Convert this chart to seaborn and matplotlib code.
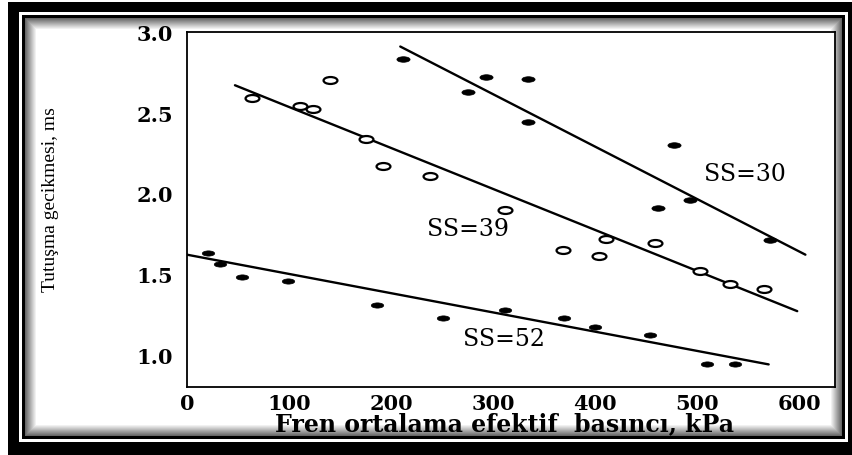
import matplotlib
matplotlib.use("Agg")
import matplotlib.pyplot as plt
import seaborn as sns
from matplotlib.path import Path
from matplotlib.patches import Rectangle
from matplotlib.transforms import Affine2D

# ---- data ----
ss30_x = [212, 275, 293, 334, 334, 462, 477, 493, 571]
ss30_y = [2.83, 2.63, 2.72, 2.71, 2.44, 1.91, 2.30, 1.96, 1.71]

ss39_x = [64, 111, 123, 140, 175, 192, 238, 312, 368, 404, 411, 459, 503, 532, 565]
ss39_y = [2.59, 2.54, 2.52, 2.70, 2.34, 2.17, 2.11, 1.90, 1.65, 1.61, 1.72, 1.69, 1.52, 1.44, 1.41]

ss52_x = [21, 32, 54, 99, 186, 251, 312, 369, 400, 454, 510, 537]
ss52_y = [1.63, 1.56, 1.48, 1.46, 1.31, 1.23, 1.28, 1.23, 1.17, 1.12, 0.94, 0.94]

line30_x = [209, 606]
line30_y = [2.91, 1.62]
line39_x = [47, 598]
line39_y = [2.67, 1.27]
line52_x = [0, 570]
line52_y = [1.62, 0.94]

label_text = ["SS=30", "SS=39", "SS=52"]
label_x = [547, 275, 311]
label_y = [2.12, 1.78, 1.10]

x_ticks = [0, 100, 200, 300, 400, 500, 600]
y_ticks = [1.0, 1.5, 2.0, 2.5, 3.0]
x_title = "Fren ortalama efektif  basıncı, kPa"
y_title = "Tutuşma gecikmesi, ms"

# ---- styling ----
sns.set_theme(style="white")
plt.rcParams['font.family'] = ['DejaVu Serif', 'DejaVu Sans']

W, H = 853, 456
fig = plt.figure(figsize=(W / 100, H / 100), dpi=100)
fig.patch.set_facecolor("white")


def frame_rect(x0, y0, x1, y1, color, z):
    fig.add_artist(Rectangle((x0 / W, 1 - y1 / H), (x1 - x0) / W, (y1 - y0) / H,
                             transform=fig.transFigure, facecolor=color,
                             edgecolor='none', zorder=z))


# decorative double border with inner shadow
frame_rect(8, 3, 853, 456, 'black', -30)
frame_rect(19, 13, 848, 443, 'white', -29)
frame_rect(22, 16, 845, 440, 'black', -28)
n = 12
for i in range(n):
    g = 0.35 + 0.65 * (i + 1) / n
    frame_rect(25 + i, 19 + i, 842 - i, 437 - i, (g, g, g), -27 + i * 0.01)

ax = fig.add_axes([187 / W, (H - 388) / H, 648 / W, 355 / H])
ax.set_facecolor("white")

ell_filled = Path.unit_circle().transformed(Affine2D().scale(1.0, 0.42))
ell_open = Path.unit_circle().transformed(Affine2D().scale(1.0, 0.5))

sns.lineplot(x=line30_x, y=line30_y, color='black', lw=1.7, ax=ax)
sns.lineplot(x=line39_x, y=line39_y, color='black', lw=1.7, ax=ax)
sns.lineplot(x=line52_x, y=line52_y, color='black', lw=1.7, ax=ax)

sns.scatterplot(x=ss30_x, y=ss30_y, marker=ell_filled, s=90, color='black',
                edgecolor='black', linewidth=0.5, ax=ax, zorder=5)
sns.scatterplot(x=ss39_x, y=ss39_y, marker=ell_open, s=100, facecolor='white',
                edgecolor='black', linewidth=1.6, ax=ax, zorder=5)
sns.scatterplot(x=ss52_x, y=ss52_y, marker=ell_filled, s=80, color='black',
                edgecolor='black', linewidth=0.5, ax=ax, zorder=5)

for t, lx, ly in zip(label_text, label_x, label_y):
    ax.text(lx, ly, t, fontsize=17, ha='center', va='center', color='black',
            family=['DejaVu Serif'])

ax.set_xlim(0, 635)
ax.set_ylim(0.8, 3.0)
ax.set_xticks(x_ticks)
ax.set_yticks(y_ticks)
ax.set_xticklabels([str(v) for v in x_ticks], fontsize=15, fontweight='bold')
ax.set_yticklabels([f"{v:.1f}" for v in y_ticks], fontsize=15, fontweight='bold')
ax.tick_params(axis='y', direction='in', length=21, width=1.3, pad=10, colors='black')
ax.tick_params(axis='x', direction='in', length=6, width=1.3, pad=4, colors='black')

for sp in ax.spines.values():
    sp.set_visible(True)
    sp.set_color('black')
    sp.set_linewidth(1.3)

ax.set_xlabel(x_title, fontsize=17, fontweight='bold', va='center', color='black')
ax.xaxis.set_label_coords(0.49, -0.101)
ax.set_ylabel(y_title, fontsize=14, family=['Liberation Serif', 'DejaVu Serif'],
              va='center', ha='center', color='black')
ax.yaxis.set_label_coords(-0.211, 0.53)

fig.savefig("out.png", dpi=100)
